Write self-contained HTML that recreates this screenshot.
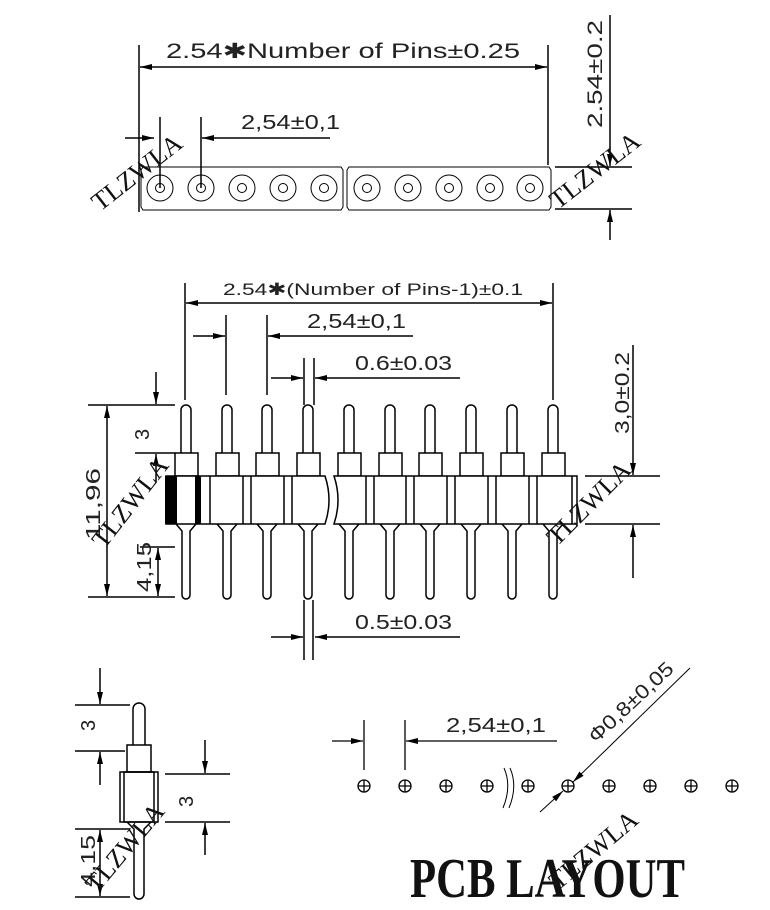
<!DOCTYPE html>
<html><head><meta charset="utf-8"><style>
html,body{margin:0;padding:0;background:#fff;}
svg{display:block;}
.d{font-family:"Liberation Sans","DejaVu Sans",sans-serif;font-weight:300;fill:#222;}
.w{font-family:"Liberation Serif",serif;font-size:26px;fill:#111;}
</style></head><body>
<svg width="770" height="910" viewBox="0 0 770 910" xmlns="http://www.w3.org/2000/svg">
<defs>
<marker id="a" viewBox="0 0 12 6" refX="12" refY="3" markerWidth="12" markerHeight="6" markerUnits="userSpaceOnUse" orient="auto"><path d="M0,0L12,3L0,6z" fill="#000"/></marker>
</defs>
<g stroke="#000" stroke-width="1.5" fill="none">
<line x1="139" y1="45" x2="139" y2="212"/>
<line x1="548" y1="45" x2="548" y2="165"/>
<line x1="160" y1="67" x2="140" y2="67" marker-end="url(#a)"/>
<line x1="160" y1="67" x2="547" y2="67" marker-end="url(#a)"/>
<line x1="125" y1="138" x2="154" y2="138" marker-end="url(#a)"/>
<line x1="330" y1="138" x2="202" y2="138" marker-end="url(#a)"/>
<line x1="160" y1="117" x2="160" y2="188"/>
<line x1="201" y1="117" x2="201" y2="188"/>
<path d="M141,170 L143,167 L341,167 L343,170 L343,207 L341,210 L143,210 L141,207 Z" stroke-width="1"/>
<path d="M347,170 L349,167 L549,167 L551,170 L551,207 L549,210 L349,210 L347,207 Z" stroke-width="1"/>
<g stroke-width="1">
<circle cx="160" cy="188" r="13"/><circle cx="160" cy="188" r="4.5"/>
<circle cx="201" cy="188" r="13"/><circle cx="201" cy="188" r="4.5"/>
<circle cx="242" cy="188" r="13"/><circle cx="242" cy="188" r="4.5"/>
<circle cx="283" cy="188" r="13"/><circle cx="283" cy="188" r="4.5"/>
<circle cx="324" cy="188" r="13"/><circle cx="324" cy="188" r="4.5"/>
<circle cx="367" cy="188" r="13"/><circle cx="367" cy="188" r="4.5"/>
<circle cx="408" cy="188" r="13"/><circle cx="408" cy="188" r="4.5"/>
<circle cx="449" cy="188" r="13"/><circle cx="449" cy="188" r="4.5"/>
<circle cx="490" cy="188" r="13"/><circle cx="490" cy="188" r="4.5"/>
<circle cx="530" cy="188" r="13"/><circle cx="530" cy="188" r="4.5"/>
</g>
<line x1="555" y1="167" x2="632" y2="167"/>
<line x1="555" y1="209" x2="632" y2="209"/>
<line x1="610" y1="15" x2="610" y2="166" marker-end="url(#a)"/>
<line x1="610" y1="240" x2="610" y2="210" marker-end="url(#a)"/>

<line x1="185" y1="283" x2="185" y2="400"/>
<line x1="553" y1="283" x2="553" y2="400"/>
<line x1="200" y1="303" x2="186" y2="303" marker-end="url(#a)"/>
<line x1="200" y1="303" x2="552" y2="303" marker-end="url(#a)"/>
<line x1="193" y1="336" x2="225" y2="336" marker-end="url(#a)"/>
<line x1="413" y1="336" x2="268" y2="336" marker-end="url(#a)"/>
<line x1="226" y1="315" x2="226" y2="395"/>
<line x1="267" y1="315" x2="267" y2="395"/>
<line x1="271" y1="378" x2="303" y2="378" marker-end="url(#a)"/>
<line x1="460" y1="378" x2="315" y2="378" marker-end="url(#a)"/>
<line x1="304" y1="358" x2="304" y2="405"/>
<line x1="314" y1="358" x2="314" y2="405"/>
<line x1="271" y1="637" x2="303" y2="637" marker-end="url(#a)"/>
<line x1="460" y1="637" x2="315" y2="637" marker-end="url(#a)"/>
<line x1="304" y1="600" x2="304" y2="660"/>
<line x1="313" y1="600" x2="313" y2="660"/>
<line x1="88" y1="405" x2="175" y2="405"/>
<line x1="88" y1="597" x2="175" y2="597"/>
<line x1="107" y1="500" x2="107" y2="406" marker-end="url(#a)"/>
<line x1="107" y1="500" x2="107" y2="596" marker-end="url(#a)"/>
<line x1="135" y1="453" x2="175" y2="453"/>
<line x1="156" y1="372" x2="156" y2="404" marker-end="url(#a)"/>
<line x1="156" y1="482" x2="156" y2="454" marker-end="url(#a)"/>
<line x1="140" y1="547" x2="175" y2="547"/>
<line x1="158" y1="570" x2="158" y2="548" marker-end="url(#a)"/>
<line x1="158" y1="570" x2="158" y2="596" marker-end="url(#a)"/>
<line x1="585" y1="476" x2="660" y2="476"/>
<line x1="585" y1="524" x2="660" y2="524"/>
<line x1="633" y1="345" x2="633" y2="475" marker-end="url(#a)"/>
<line x1="633" y1="578" x2="633" y2="525" marker-end="url(#a)"/>
</g>
<g stroke="#000" stroke-width="1.5" fill="#fff">
<path d="M181,455 L181,410 A5,5 0 0 1 191,410 L191,455"/>
<path d="M222,455 L222,410 A5,5 0 0 1 232,410 L232,455"/>
<path d="M262,455 L262,410 A5,5 0 0 1 272,410 L272,455"/>
<path d="M303,455 L303,410 A5,5 0 0 1 313,410 L313,455"/>
<path d="M344,455 L344,410 A5,5 0 0 1 354,410 L354,455"/>
<path d="M385,455 L385,410 A5,5 0 0 1 395,410 L395,455"/>
<path d="M425,455 L425,410 A5,5 0 0 1 435,410 L435,455"/>
<path d="M466,455 L466,410 A5,5 0 0 1 476,410 L476,455"/>
<path d="M507,455 L507,410 A5,5 0 0 1 517,410 L517,455"/>
<path d="M548,455 L548,410 A5,5 0 0 1 558,410 L558,455"/>
<rect x="175" y="453" width="23" height="23"/><rect x="216" y="453" width="23" height="23"/><rect x="256" y="453" width="23" height="23"/><rect x="297" y="453" width="23" height="23"/><rect x="338" y="453" width="23" height="23"/><rect x="379" y="453" width="23" height="23"/><rect x="419" y="453" width="23" height="23"/><rect x="460" y="453" width="23" height="23"/><rect x="501" y="453" width="23" height="23"/><rect x="542" y="453" width="23" height="23"/>
<g fill="none">
<path d="M176,524 L182,531 L182,595 A4,4 0 0 0 190,595 L190,531 L196,524"/>
<path d="M217,524 L223,531 L223,595 A4,4 0 0 0 231,595 L231,531 L237,524"/>
<path d="M257,524 L263,531 L263,595 A4,4 0 0 0 271,595 L271,531 L277,524"/>
<path d="M298,524 L304,531 L304,595 A4,4 0 0 0 312,595 L312,531 L318,524"/>
<path d="M339,524 L345,531 L345,595 A4,4 0 0 0 353,595 L353,531 L359,524"/>
<path d="M380,524 L386,531 L386,595 A4,4 0 0 0 394,595 L394,531 L400,524"/>
<path d="M420,524 L426,531 L426,595 A4,4 0 0 0 434,595 L434,531 L440,524"/>
<path d="M461,524 L467,531 L467,595 A4,4 0 0 0 475,595 L475,531 L481,524"/>
<path d="M502,524 L508,531 L508,595 A4,4 0 0 0 516,595 L516,531 L522,524"/>
<path d="M543,524 L549,531 L549,595 A4,4 0 0 0 557,595 L557,531 L563,524"/>
</g>
<path d="M166,476 L325,476 Q333,500 325,524 L166,524 Z"/>
<path d="M334,476 L577,476 L577,524 L334,524 Q342,500 334,476 Z"/>
<g fill="none">
<line x1="210" y1="476" x2="210" y2="524"/>
<line x1="243" y1="476" x2="243" y2="524"/><line x1="251" y1="476" x2="251" y2="524"/>
<line x1="284" y1="476" x2="284" y2="524"/><line x1="292" y1="476" x2="292" y2="524"/>
<line x1="366" y1="476" x2="366" y2="524"/><line x1="374" y1="476" x2="374" y2="524"/>
<line x1="406" y1="476" x2="406" y2="524"/><line x1="414" y1="476" x2="414" y2="524"/>
<line x1="447" y1="476" x2="447" y2="524"/><line x1="455" y1="476" x2="455" y2="524"/>
<line x1="488" y1="476" x2="488" y2="524"/><line x1="496" y1="476" x2="496" y2="524"/>
<line x1="529" y1="476" x2="529" y2="524"/><line x1="537" y1="476" x2="537" y2="524"/>
<line x1="572" y1="476" x2="572" y2="524"/>
</g>
</g>
<rect x="165" y="476" width="12" height="48" fill="#000"/>
<rect x="195" y="476" width="6" height="48" fill="#000"/>

<g stroke="#000" stroke-width="1.5" fill="none">
<path d="M133,745 L133,709 A6,6 0 0 1 145,709 L145,745"/>
<rect x="127" y="745" width="24" height="27"/>
<rect x="120" y="772" width="38" height="50"/>
<rect x="124" y="772" width="30" height="50"/>
<path d="M127,822 L134,829 L134,894 A5,5 0 0 0 144,894 L144,829 L151,822"/>
<line x1="75" y1="705" x2="130" y2="705"/>
<line x1="75" y1="751" x2="125" y2="751"/>
<line x1="100" y1="668" x2="100" y2="704" marker-end="url(#a)"/>
<line x1="100" y1="785" x2="100" y2="752" marker-end="url(#a)"/>
<line x1="165" y1="774" x2="230" y2="774"/>
<line x1="165" y1="822" x2="230" y2="822"/>
<line x1="205" y1="740" x2="205" y2="773" marker-end="url(#a)"/>
<line x1="205" y1="855" x2="205" y2="823" marker-end="url(#a)"/>
<line x1="75" y1="829" x2="130" y2="829"/>
<line x1="75" y1="897" x2="130" y2="897"/>
<line x1="100" y1="860" x2="100" y2="830" marker-end="url(#a)"/>
<line x1="100" y1="860" x2="100" y2="896" marker-end="url(#a)"/>
</g>

<g stroke="#000" stroke-width="1.3" fill="none">
<line x1="332" y1="741" x2="363" y2="741" marker-end="url(#a)"/>
<line x1="557" y1="741" x2="406" y2="741" marker-end="url(#a)"/>
<line x1="364" y1="720" x2="364" y2="770"/>
<line x1="405" y1="720" x2="405" y2="770"/>
<circle cx="364" cy="786" r="6"/><path d="M358,786h12M364,780v12"/>
<circle cx="405" cy="786" r="6"/><path d="M399,786h12M405,780v12"/>
<circle cx="446" cy="786" r="6"/><path d="M440,786h12M446,780v12"/>
<circle cx="487" cy="786" r="6"/><path d="M481,786h12M487,780v12"/>
<circle cx="528" cy="786" r="6"/><path d="M522,786h12M528,780v12"/>
<circle cx="568" cy="786" r="6"/><path d="M562,786h12M568,780v12"/>
<circle cx="609" cy="786" r="6"/><path d="M603,786h12M609,780v12"/>
<circle cx="650" cy="786" r="6"/><path d="M644,786h12M650,780v12"/>
<circle cx="691" cy="786" r="6"/><path d="M685,786h12M691,780v12"/>
<circle cx="732" cy="786" r="6"/><path d="M726,786h12M732,780v12"/>
<path d="M504,768 Q512,786 503,808" stroke-width="1"/>
<path d="M510,768 Q518,786 509,808" stroke-width="1"/>
<line x1="690" y1="668" x2="573" y2="782" marker-end="url(#a)" stroke-width="1"/>
<line x1="540" y1="812" x2="563" y2="791" marker-end="url(#a)" stroke-width="1"/>
</g>

<g class="d">
<text x="166" y="58" font-size="21" textLength="354" lengthAdjust="spacingAndGlyphs">2.54✱Number of Pins±0.25</text>
<text x="241" y="129" font-size="20" textLength="99" lengthAdjust="spacingAndGlyphs">2,54±0,1</text>
<text transform="translate(602,128) rotate(-90)" font-size="21" textLength="108" lengthAdjust="spacingAndGlyphs">2.54±0.2</text>
<text x="223" y="295" font-size="17" textLength="300" lengthAdjust="spacingAndGlyphs">2.54✱(Number of Pins-1)±0.1</text>
<text x="307" y="328" font-size="20" textLength="99" lengthAdjust="spacingAndGlyphs">2,54±0,1</text>
<text x="355" y="370" font-size="20" textLength="97" lengthAdjust="spacingAndGlyphs">0.6±0.03</text>
<text x="355" y="629" font-size="20" textLength="97" lengthAdjust="spacingAndGlyphs">0.5±0.03</text>
<text transform="translate(100,540) rotate(-90)" font-size="20" textLength="72" lengthAdjust="spacingAndGlyphs">11,96</text>
<text transform="translate(149,440) rotate(-90)" font-size="20">3</text>
<text transform="translate(151,592) rotate(-90)" font-size="20" textLength="50" lengthAdjust="spacingAndGlyphs">4,15</text>
<text transform="translate(629,434) rotate(-90)" font-size="20" textLength="82" lengthAdjust="spacingAndGlyphs">3,0±0.2</text>
<text transform="translate(95,731) rotate(-90)" font-size="20">3</text>
<text transform="translate(193,807) rotate(-90)" font-size="20">3</text>
<text transform="translate(95,887) rotate(-90)" font-size="20" textLength="52" lengthAdjust="spacingAndGlyphs">4,15</text>
<text x="446" y="732" font-size="20" textLength="100" lengthAdjust="spacingAndGlyphs">2,54±0,1</text>
<text transform="translate(596,744) rotate(-43)" font-size="20" textLength="108" lengthAdjust="spacingAndGlyphs">Φ0,8±0,05</text>
</g>
<text x="410" y="897" font-family="Liberation Serif,serif" font-weight="bold" font-size="56" textLength="275" lengthAdjust="spacingAndGlyphs" fill="#111">PCB LAYOUT</text>
<g class="w">
<text transform="translate(100,212) rotate(-38)">TLZWLA</text>
<text transform="translate(558,210) rotate(-38)">TLZWLA</text>
<text transform="translate(104,550) rotate(-52)">TLZWLA</text>
<text transform="translate(557,547) rotate(-45)">TLZWLA</text>
<text transform="translate(97,894) rotate(-50)">TLZWLA</text>
<text transform="translate(558,891) rotate(-40)">TLZWLA</text>
</g>
</svg>
</body></html>
